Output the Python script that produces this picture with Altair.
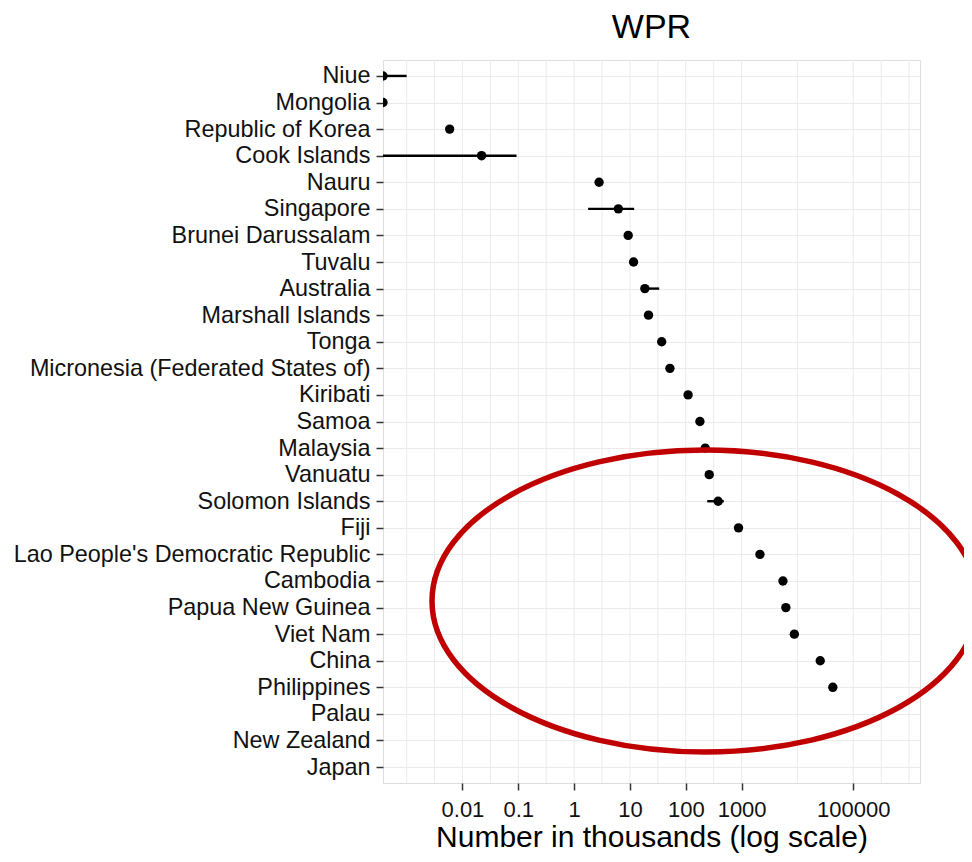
import altair as alt
import pandas as pd

FONT = "Liberation Sans, Arial, sans-serif"

countries = [
    "Niue", "Mongolia", "Republic of Korea", "Cook Islands", "Nauru", "Singapore",
    "Brunei Darussalam", "Tuvalu", "Australia", "Marshall Islands", "Tonga",
    "Micronesia (Federated States of)", "Kiribati", "Samoa", "Malaysia", "Vanuatu",
    "Solomon Islands", "Fiji", "Lao People's Democratic Republic", "Cambodia",
    "Papua New Guinea", "Viet Nam", "China", "Philippines", "Palau", "New Zealand", "Japan",
]
# estimate (thousands); 0 = drawn at the left edge; None = no data
estimates = [0, 0, 0.0059, 0.022, 2.8, 6.2, 9.3, 11.6, 18.5, 21.5, 37, 52, 110, 179,
             223, 263, 380, 880, 2130, 5500, 6200, 8800, 25600, 43000, None, None, None]
lower = [0, None, None, 0, None, 1.78, None, None, 16.5, None, None, None, None, None,
         None, None, 242, None, None, None, None, None, None, None, None, None, None]
upper = [0.001, None, None, 0.093, None, 11.9, None, None, 33.4, None, None, None, None, None,
         None, None, 480, None, None, None, None, None, None, None, None, None, None]

major_breaks = [0.01, 0.1, 1, 10, 100, 1000, 100000]
minor_breaks = [0.001, 0.00316, 0.0316, 0.316, 3.16, 31.6, 316, 10000, 316000, 1000000]

XMIN, XMAX = 3.776e-4, 1.567e6

pts = pd.DataFrame({
    "country": [c for c, v in zip(countries, estimates) if v is not None],
    "value": [max(v, XMIN) for v in estimates if v is not None],
})
bars = pd.DataFrame({
    "country": [c for c, lo, hi in zip(countries, lower, upper) if lo is not None],
    "lo": [max(lo, XMIN) for lo in lower if lo is not None],
    "hi": [hi for lo, hi in zip(lower, upper) if lo is not None],
})
grid = pd.DataFrame({"g": major_breaks + minor_breaks})

xscale = alt.Scale(type="log", domain=[XMIN, XMAX], nice=False)
yscale = alt.Scale(type="point", domain=countries, padding=0.6)
xtitle = "Number in thousands (log scale)"

xaxis = alt.Axis(values=major_breaks, format="~f", grid=False, domain=False,
                 tickSize=7, tickColor="#333333", tickWidth=1.5,
                 labelFontSize=22, labelColor="#111111", labelPadding=9,
                 titleFontSize=30, titleFontWeight="normal", titleColor="#000000",
                 titlePadding=2, title=xtitle)
yaxis = alt.Axis(grid=True, gridColor="#ebebeb", gridWidth=1, domain=False,
                 tickSize=7, tickColor="#333333", tickWidth=1.5,
                 labelFontSize=23.4, labelColor="#111111", labelPadding=6,
                 labelLimit=500, title=None)

gridlayer = alt.Chart(grid).mark_rule(color="#ebebeb", strokeWidth=1).encode(
    x=alt.X("g:Q", scale=xscale, axis=xaxis, title=xtitle),
)

errlayer = alt.Chart(bars).mark_rule(color="#000000", strokeWidth=2.4, clip=True).encode(
    x=alt.X("lo:Q", scale=xscale, axis=xaxis, title=xtitle),
    x2="hi:Q",
    y=alt.Y("country:N", scale=yscale, axis=yaxis),
)

ptlayer = alt.Chart(pts).mark_circle(color="#000000", size=88, opacity=1, clip=True).encode(
    x=alt.X("value:Q", scale=xscale, axis=xaxis, title=xtitle),
    y=alt.Y("country:N", scale=yscale, axis=yaxis),
)

ellipse_path = "M -1 0 A 1 0.553 0 1 1 1 0 A 1 0.553 0 1 1 -1 0 Z"
ellipse = alt.Chart(pd.DataFrame({"a": [0]})).mark_point(
    shape=ellipse_path, size=298116, filled=False, color="#c00000",
    strokeWidth=5.5, opacity=1,
).encode(x=alt.value(322), y=alt.value(541))

chart = alt.layer(gridlayer, errlayer, ptlayer, ellipse).properties(
    width=537, height=723,
    title=alt.Title("WPR", fontSize=34, fontWeight="normal", font=FONT, color="#000000",
                    anchor="middle", offset=15),
    autosize=alt.AutoSizeParams(type="none"),
    padding={"left": 375, "top": 52, "right": 44, "bottom": 71},
).configure_view(stroke="#7f7f7f", strokeWidth=1.3).configure_axis(
    labelFont=FONT, titleFont=FONT
).configure(background="white")

chart.save("out.html", embed_options={"renderer": "svg", "actions": False})
